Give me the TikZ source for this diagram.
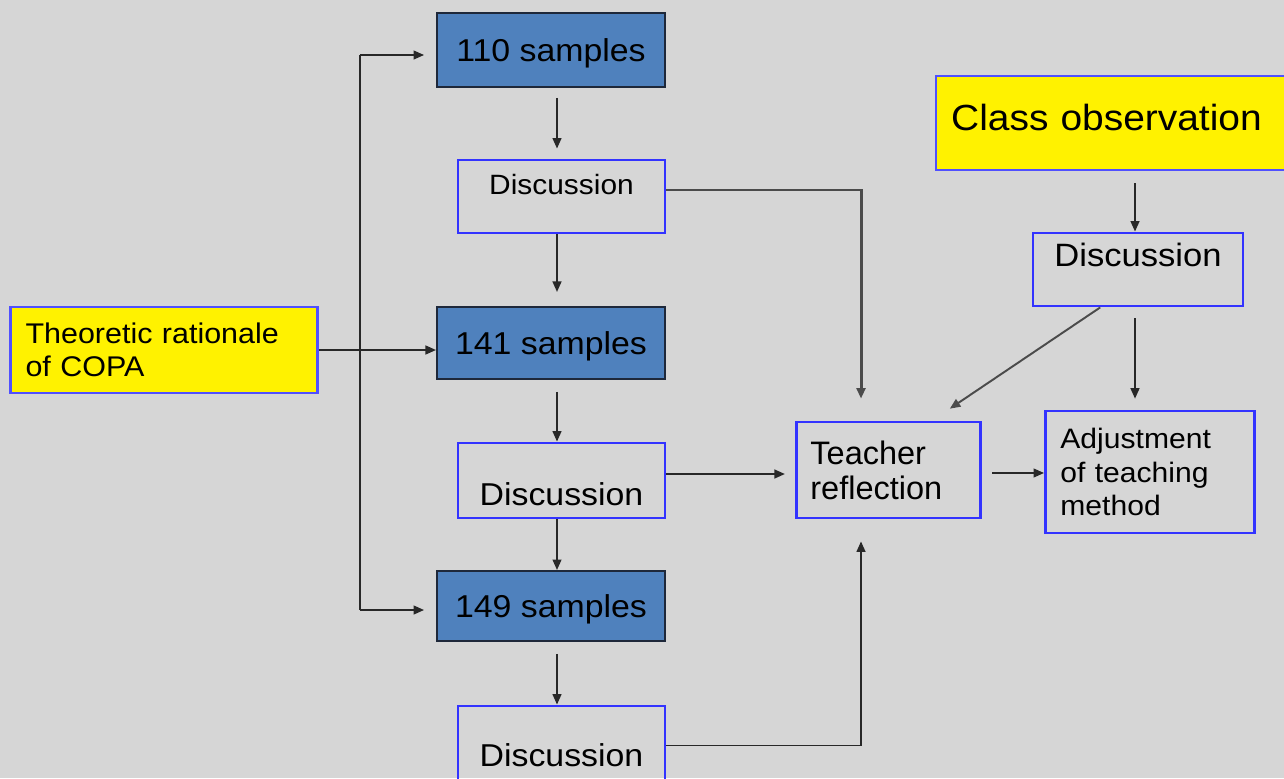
\documentclass[tikz,border=0pt]{standalone}
\usepackage{fontspec}
\setmainfont{Liberation Sans}
\newfontfamily\widefont{Liberation Sans}[FakeStretch=1.07]
\usetikzlibrary{arrows.meta}

\def\px{0.02cm}
\definecolor{bggray}{RGB}{214,214,214}
\definecolor{sampblue}{RGB}{79,129,189}
\definecolor{sampedge}{RGB}{30,40,58}
\definecolor{boxblue}{RGB}{51,51,255}
\definecolor{noteedge}{RGB}{80,80,255}
\definecolor{linedark}{RGB}{40,40,40}
\definecolor{linegray}{RGB}{75,75,75}

\begin{document}
\begin{tikzpicture}[x=0.02cm, y=-0.02cm, every node/.style={rectangle,inner sep=0},
	samp/.style={fill=sampblue,draw=sampedge,line width=1.1pt,minimum width=228*\px,text depth=0pt,font=\widefont\fontsize{18pt}{21pt}\selectfont},
	disc/.style={draw=boxblue,line width=1.6pt,minimum width=207*\px,font=\widefont\fontsize{18pt}{21pt}\selectfont},
	note/.style={fill=yellow,draw=noteedge,line width=1.4pt,align=left,inner xsep=8.5pt},
	plainbox/.style={draw=boxblue,line width=1.6pt,align=left},
	wire/.style={draw=linedark,line width=1.1pt},
	arr/.style={wire,-{Triangle[length=6pt,width=5pt]}}]
		\useasboundingbox (0,0) rectangle (1284,778);
		\clip (0,0) rectangle (1284,778);
		\fill[bggray] (0,0) rectangle (1284,778);
		
		\node (s110) at (551,50) [samp,minimum height=74*\px] {110 samples};
		\node (d1) at (561.5,196.5) [disc,minimum height=73*\px,text height=0pt,text depth=2pt,font=\widefont\fontsize{15.9pt}{19pt}\selectfont] {Discussion};
		\node (s141) at (551,343) [samp,minimum height=72*\px] {141 samples};
		\node (d2) at (561.5,480.5) [disc,minimum height=75*\px,text height=28pt,text depth=0pt] {Discussion};
		\node (s149) at (551,606) [samp,minimum height=70*\px] {149 samples};
		\node (d3) at (561.5,745.5) [disc,minimum height=79*\px,text height=24.4pt,text depth=0pt] {Discussion};
		
		\node (theo) at (164,350) [note,minimum height=86*\px,text width=157.6pt,font=\widefont\fontsize{16.2pt}{18.7pt}\selectfont] {Theoretic rationale\\of COPA};
		\node (cls) at (935,123) [note,anchor=west,minimum height=94*\px,text width=190pt,text height=8pt,text depth=0pt,font=\widefont\fontsize{20.7pt}{24pt}\selectfont] {Class observation};
		\node (d4) at (1138,269.5) [disc,minimum width=210*\px,minimum height=73*\px,text height=0pt,text depth=3pt,font=\widefont\fontsize{18.4pt}{21pt}\selectfont] {Discussion};
		\node (teach) at (888.5,470) [plainbox,minimum height=96*\px,inner xsep=8pt,text width=88.9pt,font=\fontsize{18.5pt}{19.8pt}\selectfont] {Teacher\\reflection};
		\node (adj) at (1150,472) [plainbox,minimum height=122*\px,inner xsep=8.5pt,text width=102pt,font=\widefont\fontsize{16pt}{19.3pt}\selectfont] {Adjustment\\of teaching\\method};
		
		\coordinate (ax) at (557,0);
		\coordinate (tx) at (861,0);
		\coordinate (cx) at (1135,0);
		\coordinate (jt) at (360,55);
		\coordinate (jb) at (360,610);
		
		% left bracket
		\draw[arr] (theo.east) to (theo.east -| s141.west);
		\draw[wire] (jt) to (jb);
		\draw[arr,shorten >=6.8pt] (jt) to (jt -| s110.west);
		\draw[arr,shorten >=6.8pt] (jb) to (jb -| s149.west);
		
		% sample chain
		\draw[arr,shorten <=5.7pt,shorten >=5.7pt] (s110.south -| ax) to (d1.north -| ax);
		\draw[arr,shorten >=8pt] (d1.south -| ax) to (s141.north -| ax);
		\draw[arr,shorten <=6.8pt] (s141.south -| ax) to (d2.north -| ax);
		\draw[arr] (d2.south -| ax) to (s149.north -| ax);
		\draw[arr,shorten <=6.8pt] (s149.south -| ax) to (d3.north -| ax);
		
		% into the reflection
		\draw[arr,draw=linegray,line width=1.7pt,shorten >=12.5pt] ([yshift=3.7pt]d1.east) -| (teach.north -| tx);
		\draw[arr,shorten >=5.7pt] ([yshift=3.7pt]d2.east) to ([yshift=3.7pt]d2.east -| teach.west);
		\draw[arr,shorten >=12.5pt] (d3.east) -| (teach.south -| tx);
		
		% observation side
		\draw[arr,shorten <=6.8pt] (cls.south -| cx) to (d4.north -| cx);
		\draw[arr,shorten <=6.2pt,shorten >=6.2pt] (d4.south -| cx) to (adj.north -| cx);
		\draw[arr,draw=linegray] ([xshift=-21.5pt]d4.south) to ([xshift=34.9pt,yshift=6.8pt]teach.north);
		\draw[arr,shorten <=5.7pt] ([yshift=-1.7pt]teach.east) to ([yshift=-1.7pt]teach.east -| adj.west);
		
	\end{tikzpicture}
\end{document}
